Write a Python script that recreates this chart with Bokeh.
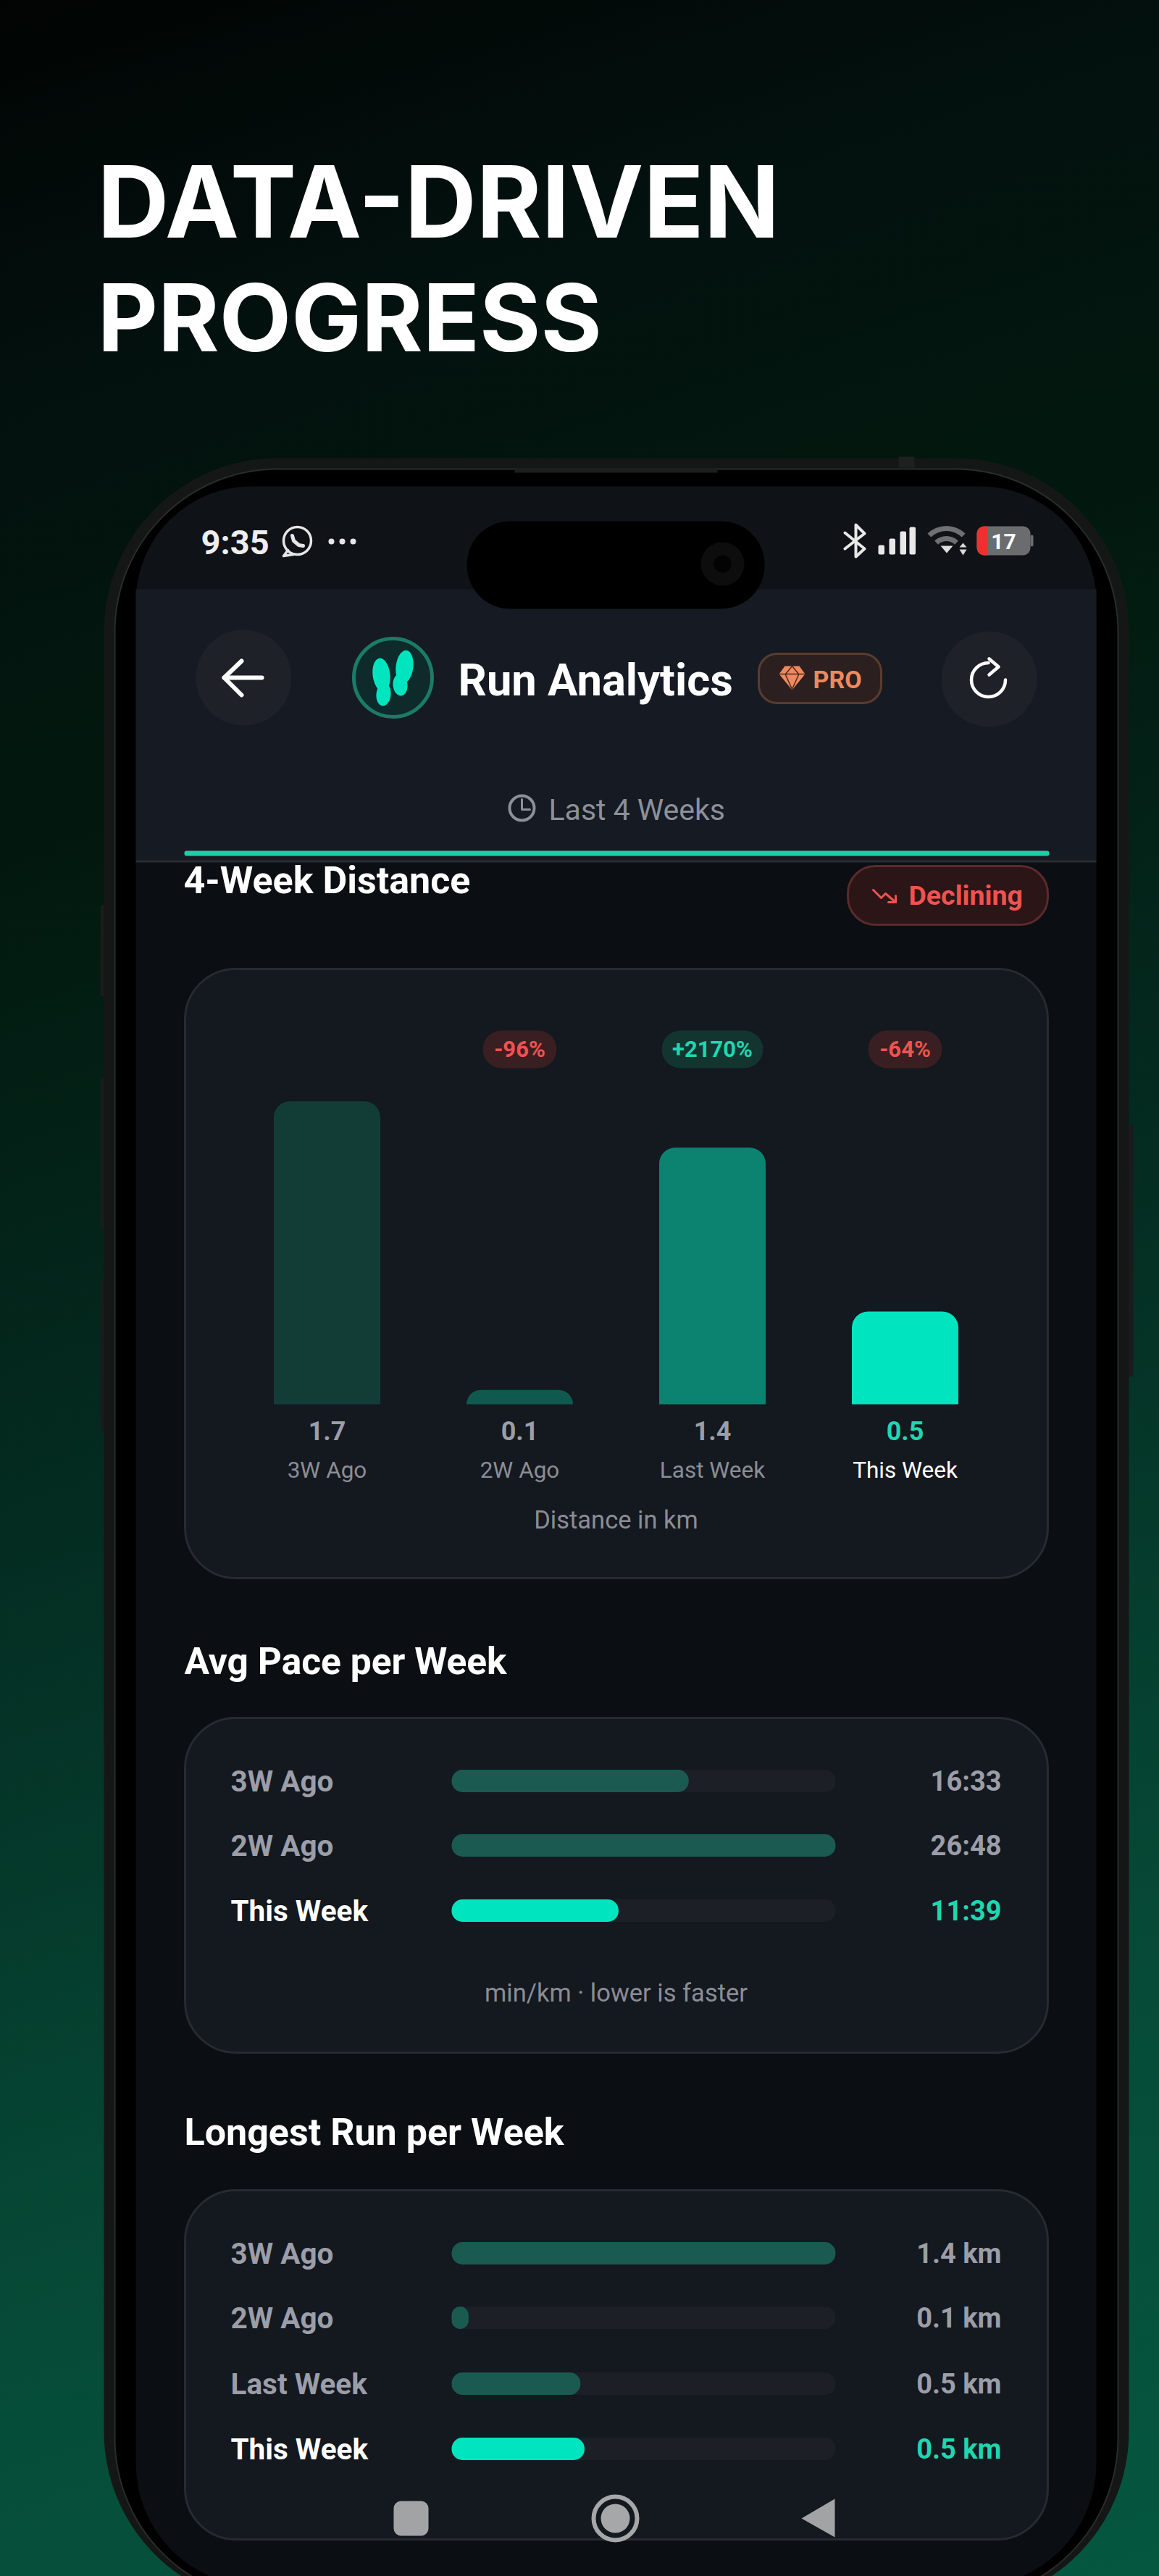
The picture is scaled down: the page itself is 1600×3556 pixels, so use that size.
from bokeh.embed import file_html
from bokeh.resources import INLINE
from bokeh.core.properties import value
from bokeh.models import GlobalInlineStyleSheet, Range1d
from bokeh.plotting import figure

# chart values
distance_weeks = ["3W Ago", "2W Ago", "Last Week", "This Week"]
distance_km = [1.70, 0.08, 1.44, 0.52]
distance_labels = ["1.7", "0.1", "1.4", "0.5"]
distance_changes = [None, "-96%", "+2170%", "-64%"]

pace_weeks = ["3W Ago", "2W Ago", "This Week"]
pace_seconds = [993, 1608, 699]
pace_labels = ["16:33", "26:48", "11:39"]

longest_weeks = ["3W Ago", "2W Ago", "Last Week", "This Week"]
longest_km = [1.43, 0.063, 0.48, 0.495]
longest_labels = ["1.4 km", "0.1 km", "0.5 km", "0.5 km"]

# colours
TEAL = "#00e5c0"
TEAL_TEXT = "#1fd6b0"
RED = "#ef5350"
ORANGE = "#ee8a5e"
GREY = "#9b9ea8"
GREY_DIM = "#8a8d95"
CARD = "#14181f"
CARD_LINE = "#272b31"
TRACK = "#1c1f26"
DIM_BAR = "#1a5a50"
DISTANCE_COLORS = ["#123d37", "#10594e", "#0b8370", TEAL]

# the figure is drawn in the picture's own pixels
X0, X1, Y0, Y1 = 0, 1600, 0, 3556

p = figure(width=X1 - X0, height=Y1 - Y0, output_backend="svg", toolbar_location=None,
           x_range=Range1d(X0, X1), y_range=Range1d(Y1, Y0),
           x_axis_type=None, y_axis_type=None, min_border=0, outline_line_color=None,
           background_fill_alpha=0, border_fill_alpha=0)
p.grid.visible = False
p.stylesheets = [GlobalInlineStyleSheet(css="""
html { min-height: 100%; overflow: hidden;
       background: linear-gradient(162deg, #010403 0%, #03110e 14%, #02190f 30%, #042c21 52%, #064a36 78%, #05573f 100%); }
body { background: transparent; margin: 0; }
""")]

# scales for the bars
BASELINE = 1938
KM_PX = 246
p.extra_y_ranges["km"] = Range1d((BASELINE - Y1) / KM_PX, (BASELINE - Y0) / KM_PX)
TRACK_X0, TRACK_X1 = 623, 1153
TRACK_W = TRACK_X1 - TRACK_X0
pace_px = TRACK_W / max(pace_seconds)
long_px = TRACK_W / max(longest_km)
p.extra_x_ranges["pace"] = Range1d((X0 - TRACK_X0) / pace_px, (X1 - TRACK_X0) / pace_px)
p.extra_x_ranges["long"] = Range1d((X0 - TRACK_X0) / long_px, (X1 - TRACK_X0) / long_px)


def label(x, y, s, size, color, align="left", style="normal", font="Roboto"):
    p.text(x=[x], y=[y], text=[s], text_font=value(font), text_font_size=value(f"{size}px"),
           text_color=color, text_align=align, text_baseline="middle", text_font_style=style)


def box(left, right, top, bottom, fill, radius=0, line=None, line_width=1):
    p.quad(left=[left], right=[right], top=[top], bottom=[bottom], fill_color=fill,
           line_color=line, line_width=line_width, border_radius=radius)


def stroke(xs, ys, color, width=4):
    p.line(xs, ys, line_color=color, line_width=width, line_cap="round", line_join="round")


# headline
label(134, 277, "DATA-DRIVEN", 137, "#ffffff", style="bold", font="Inter")
label(134, 437, "PROGRESS", 129, "#ffffff", style="bold", font="Inter")

# phone body
for top, bottom in [(1249, 1375), (1487, 1697), (1763, 1975)]:
    box(138, 150, top, bottom, "#1a1c1c", radius=4)
box(1552, 1564, 1552, 1900, "#1a1c1c", radius=4)
box(143, 1558, 632, 3596, "#151717", radius=240)
box(158, 1543, 647, 3590, "#000000", radius=225, line="#2a2c2c", line_width=2)
box(1240, 1262, 630, 645, "#1e2120")
box(710, 990, 646, 652, "#1c1e1e")

# screen
box(187, 1513, 671, 3570, "#0b0e12", radius=170)
box(187, 1513, 671, 830, "#0f1216", radius=(170, 170, 0, 0))
box(187, 1513, 813, 1187, "#161a22")
box(187, 1513, 1187, 1190, "#2b2d31")

# status bar
label(277, 748, "9:35", 47, "#eeeeee", style="bold")
p.circle([410], [746], radius=19, fill_color=None, line_color="#e6e6e6", line_width=3.5)
stroke([397, 391, 404], [759, 767, 765], "#e6e6e6", 3.5)
stroke([403, 405, 412, 418], [739, 746, 752, 753], "#e6e6e6", 5)
p.circle([457, 472, 487], [747, 747, 747], radius=4, fill_color="#e6e6e6", line_color=None)
box(644, 1055, 719, 840, "#000000", radius=60)
p.circle([997], [778], radius=30, fill_color="#0d0d0d", line_color=None)
p.circle([997], [778], radius=12, fill_color="#030303", line_color=None)
stroke([1166, 1193, 1181, 1181, 1193, 1166], [735, 757, 768, 724, 736, 757], "#e8e8e8", 4)
for x, h in zip([1212, 1227, 1242, 1255], [13, 22, 32, 38]):
    box(x, x + 8.5, 765 - h, 765, "#e8e8e8", radius=2)
p.arc([1306, 1306], [763, 763], radius=[34, 20], start_angle=0.8, end_angle=2.34,
      line_color="#6e7072", line_width=7)
p.patch([1298, 1315, 1306.5], [753, 753, 763], fill_color="#e0e0e0", line_color=None)
p.patch([1324, 1334, 1329], [755, 755, 749], fill_color="#d8d8d8", line_color=None)
p.patch([1324, 1334, 1329], [758, 758, 766], fill_color="#d8d8d8", line_color=None)
box(1348, 1422, 726, 766, "#6a6c6e", radius=10)
box(1348, 1363, 726, 766, "#ee3030", radius=(10, 0, 0, 10))
box(1422, 1426, 738, 754, "#6a6c6e", radius=2)
label(1385, 747, "17", 30, "#ffffff", align="center", style="bold")

# header
p.circle([336, 1365], [935, 937], radius=66, fill_color="#1e2128", line_color=None)
stroke([361, 309], [935, 935], "#ffffff", 6)
stroke([333, 309, 333], [912, 935, 959], "#ffffff", 6)
p.circle([542], [935], radius=54, fill_color="#0e2a2a", line_color="#1a7c68", line_width=5)
p.ellipse([526, 558, 529, 552], [931, 920, 958, 945], width=[24, 24, 20, 20], height=[46, 46, 32, 30],
          angle=[0.12, -0.12, -0.1, 0.1], fill_color=TEAL, line_color=None)
label(632, 938, "Run Analytics", 61.5, "#ffffff", style="bold")
box(1047, 1216, 902, 970, "#2b201f", radius=25, line="#5a3c2e", line_width=3)
p.patch([1083, 1103, 1111, 1093, 1075], [919, 919, 930, 952, 930], fill_color=ORANGE, line_color=None)
stroke([1075, 1111], [930, 930], "#4a2a20", 1.5)
stroke([1084, 1093, 1102], [931, 951, 931], "#4a2a20", 1.5)
stroke([1084, 1093, 1102], [930, 919, 930], "#4a2a20", 1.5)
label(1122, 937, "PRO", 34, ORANGE, style="bold")
p.arc([1364], [938], radius=[23.5], start_angle=1.57, end_angle=0, direction="anticlock",
      line_color="#ffffff", line_width=4.5, line_cap="round")
stroke([1365, 1378, 1365], [909, 920, 931], "#ffffff", 4.5)

p.circle([720], [1115], radius=17, fill_color=None, line_color="#8d9099", line_width=4)
stroke([720, 720, 731], [1103, 1117, 1117], "#8d9099", 3)
label(757, 1117, "Last 4 Weeks", 41, "#8d9099")
box(254, 1448, 1174, 1181, "#1ccfa8", radius=3)

# distance section
label(253, 1215, "4-Week Distance", 52, "#ffffff", style="bold")
box(1170, 1446, 1195, 1276, "#2c1517", radius=38, line="#5c2a2c", line_width=3)
stroke([1205, 1216, 1222, 1236], [1228, 1239, 1233, 1245], RED, 3)
stroke([1226, 1236, 1236], [1245, 1245, 1236], RED, 3)
label(1254, 1235, "Declining", 37.5, RED, style="bold")

box(255, 1446, 1337, 2178, CARD, radius=70, line=CARD_LINE, line_width=3)
bar_x = [451 + 266 * i for i in range(len(distance_weeks))]
p.vbar(x=bar_x, width=147, bottom=0, top=distance_km, y_range_name="km",
       fill_color=DISTANCE_COLORS, line_color=None, border_radius=(22, 22, 0, 0))
for x, change, value_label, week in zip(bar_x, distance_changes, distance_labels, distance_weeks):
    current = week == "This Week"
    if change:
        up = change.startswith("+")
        half = 70 if up else 51
        box(x - half, x + half, 1422, 1474, "#12352f" if up else "#3a1f22", radius=26)
        label(x, 1448, change, 31, TEAL_TEXT if up else RED, align="center", style="bold")
    label(x, 1974, value_label, 36, TEAL_TEXT if current else GREY, align="center", style="bold")
    label(x, 2029, week, 31.5, "#ffffff" if current else GREY_DIM, align="center")
label(850, 2097, "Distance in km", 34.5, GREY_DIM, align="center")

# pace section
label(254, 2293, "Avg Pace per Week", 51.5, "#ffffff", style="bold")
box(255, 1446, 2371, 2833, CARD, radius=70, line=CARD_LINE, line_width=3)
pace_y = [2458, 2547, 2637]
p.hbar(y=pace_y, height=31, left=0, right=max(pace_seconds), x_range_name="pace",
       fill_color=TRACK, line_color=None, border_radius=15)
p.hbar(y=pace_y, height=31, left=0, right=pace_seconds, x_range_name="pace", line_color=None,
       fill_color=[TEAL if w == "This Week" else DIM_BAR for w in pace_weeks], border_radius=15)
for y, week, text in zip(pace_y, pace_weeks, pace_labels):
    current = week == "This Week"
    label(318, y, week, 40.5, "#ffffff" if current else GREY, style="bold")
    label(1382, y, text, 38, TEAL_TEXT if current else GREY, align="right", style="bold")
label(850, 2750, "min/km · lower is faster", 34.5, GREY_DIM, align="center")

# longest run section
label(254, 2943, "Longest Run per Week", 52, "#ffffff", style="bold")
box(255, 1446, 3023, 3505, CARD, radius=70, line=CARD_LINE, line_width=3)
long_y = [3110, 3199, 3290, 3380]
p.hbar(y=long_y, height=31, left=0, right=max(longest_km), x_range_name="long",
       fill_color=TRACK, line_color=None, border_radius=15)
p.hbar(y=long_y, height=31, left=0, right=longest_km, x_range_name="long", line_color=None,
       fill_color=[TEAL if w == "This Week" else DIM_BAR for w in longest_weeks], border_radius=15)
for y, week, text in zip(long_y, longest_weeks, longest_labels):
    current = week == "This Week"
    label(318, y, week, 40.5, "#ffffff" if current else GREY, style="bold")
    label(1382, y, text, 38, TEAL_TEXT if current else GREY, align="right", style="bold")

# android nav buttons
box(543, 591, 3452, 3500, "#a2a3a5", radius=10)
p.circle([849], [3476], radius=30, fill_color=None, line_color="#a6a7a9", line_width=6)
p.circle([849], [3476], radius=20, fill_color="#a6a7a9", line_color=None)
p.patch([1152, 1106, 1152], [3449, 3476, 3502], fill_color="#a2a3a5", line_color=None)

open("out.html", "w").write(file_html(p, INLINE))
